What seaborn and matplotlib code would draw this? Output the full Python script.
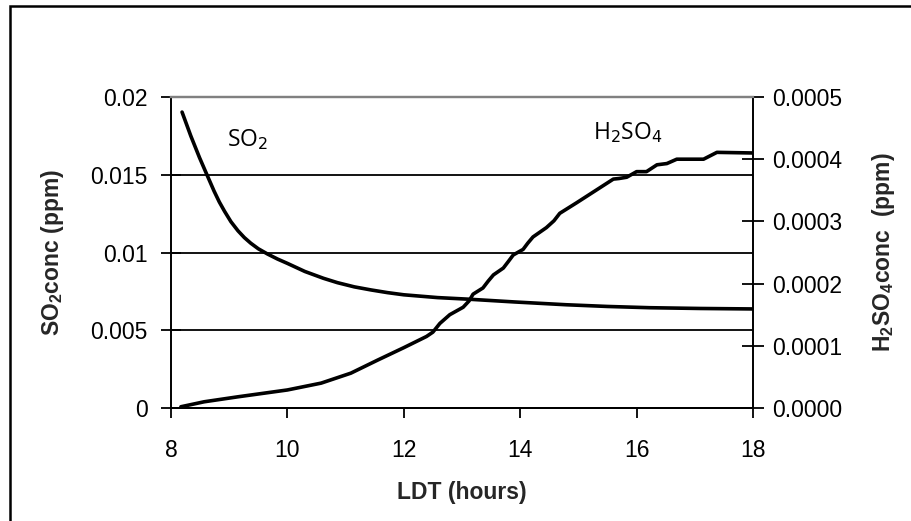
import matplotlib
matplotlib.use("Agg")
import matplotlib.pyplot as plt
import seaborn as sns
import pandas as pd
from matplotlib.patches import Rectangle

# SO2 concentration (left axis, ppm)
so2_hours = [8.19, 8.34, 8.49, 8.60, 8.74, 8.83, 8.92, 9.03, 9.15, 9.26, 9.37,
             9.5, 9.66, 9.83, 10.0, 10.3, 10.62, 10.86, 11.15, 11.44, 11.72,
             12.0, 12.58, 13.1, 13.9, 14.79, 15.5, 16.22, 17.1, 18.0]
so2_conc = [0.01903, 0.0175, 0.0161, 0.01515, 0.01395, 0.01325, 0.01265,
            0.01198, 0.0114, 0.01096, 0.0106, 0.01024, 0.0099, 0.00958,
            0.0093, 0.00878, 0.00834, 0.00806, 0.00779, 0.00759, 0.00742,
            0.00728, 0.0071, 0.007, 0.00682, 0.00664, 0.00653, 0.00645,
            0.0064, 0.00637]

# H2SO4 concentration (right axis, ppm)
h2so4_hours = [8.17, 8.57, 9.15, 10.0, 10.58, 11.09, 11.55, 12.0, 12.39, 12.5,
               12.62, 12.79, 13.02, 13.12, 13.19, 13.36, 13.45, 13.54, 13.71,
               13.8, 13.88, 14.05, 14.13, 14.22, 14.45, 14.58, 14.68, 14.97,
               15.6, 15.7, 15.83, 16.0, 16.17, 16.35, 16.52, 16.69, 17.15,
               17.38, 18.0]
h2so4_conc = [0.000002, 0.00001, 0.000018, 0.000029, 0.00004, 0.000056,
              0.000077, 0.000097, 0.000115, 0.000122, 0.000136, 0.00015,
              0.000162, 0.000172, 0.000183, 0.000193, 0.000204, 0.000214,
              0.000225, 0.000236, 0.000246, 0.000255, 0.000265, 0.000275,
              0.00029, 0.000301, 0.000313, 0.00033, 0.000368, 0.000369,
              0.000371, 0.00038, 0.00038, 0.000391, 0.000393, 0.0004, 0.0004,
              0.000411, 0.00041]

x_ticks = [8, 10, 12, 14, 16, 18]
left_ticks = [0, 0.005, 0.01, 0.015, 0.02]
left_labels = ["0", "0.005", "0.01", "0.015", "0.02"]
right_ticks = [0, 0.0001, 0.0002, 0.0003, 0.0004, 0.0005]
right_labels = ["0.0000", "0.0001", "0.0002", "0.0003", "0.0004", "0.0005"]

sns.set_style("white")
plt.rcParams["font.family"] = ["Liberation Sans", "DejaVu Sans"]
plt.rcParams["mathtext.fontset"] = "custom"
plt.rcParams["mathtext.rm"] = "Liberation Sans"
plt.rcParams["mathtext.bf"] = "Liberation Sans:bold"

fig = plt.figure(figsize=(9.12, 5.21), dpi=100)
ax = fig.add_axes([171 / 912, 1 - 408 / 521, 582 / 912, 311 / 521])

df1 = pd.DataFrame({"hours": so2_hours, "conc": so2_conc})
df2 = pd.DataFrame({"hours": h2so4_hours, "conc": h2so4_conc})

sns.lineplot(data=df1, x="hours", y="conc", ax=ax, color="black", lw=2.6,
             sort=True, solid_joinstyle="round", solid_capstyle="round")
ax2 = ax.twinx()
sns.lineplot(data=df2, x="hours", y="conc", ax=ax2, color="black", lw=2.6,
             sort=True, solid_joinstyle="round", solid_capstyle="round")

ax.set_xlim(8, 18)
ax.set_ylim(0, 0.02)
ax2.set_ylim(0, 0.0005)

ax.set_xticks(x_ticks)
ax.set_xticklabels([str(t) for t in x_ticks])
ax.set_yticks(left_ticks)
ax.set_yticklabels(left_labels)
ax2.set_yticks(right_ticks)
ax2.set_yticklabels(right_labels)

ax.yaxis.grid(True, color="black", lw=1.3)
ax.xaxis.grid(False)
ax.set_axisbelow(True)

for a in (ax, ax2):
    for s in ("left", "right", "bottom"):
        a.spines[s].set_color("black")
        a.spines[s].set_linewidth(1.4)
    a.spines["top"].set_color("#808080")
    a.spines["top"].set_linewidth(1.6)
ax.spines["right"].set_visible(False)
ax2.spines["left"].set_visible(False)

ax.tick_params(axis="y", direction="inout", length=14, width=1.3, pad=10,
               labelsize=16.5, colors="black", left=True)
ax.tick_params(axis="x", direction="out", length=7, width=1.3, pad=15,
               labelsize=16.5, colors="black", bottom=True)
ax2.tick_params(axis="y", direction="inout", length=16, width=1.3, pad=6,
                labelsize=16.5, colors="black", right=True)

ax.set_xlabel("LDT (hours)", fontsize=16.5, fontweight="bold")
ax.xaxis.set_label_coords(0.5, -0.273)
ax.xaxis.label.set_va("center")
ax.set_ylabel(r"SO$_\mathbf{2}$conc (ppm)", fontsize=16.5, fontweight="bold")
ax.yaxis.set_label_coords(-0.203, 0.5)
ax.yaxis.label.set_va("center")
ax2.set_ylabel(r"H$_\mathbf{2}$SO$_\mathbf{4}$conc  (ppm)", fontsize=16.5,
               fontweight="bold", rotation=90)
ax2.yaxis.set_label_coords(1.2234, 0.5)
ax2.yaxis.label.set_va("center")

ax.text(9.32, 0.01723, r"SO$_2$", fontsize=16.5, family="Open Sans",
        ha="center", va="center", math_fontfamily="dejavusans", color="black")
ax2.text(15.85, 0.000442, r"H$_2$SO$_4$", fontsize=16.5, family="Open Sans",
         ha="center", va="center", math_fontfamily="dejavusans", color="black")

fig.patches.append(Rectangle((10 / 912, -0.05), 1.2, 1.05 - 6 / 521,
                             transform=fig.transFigure, fill=False,
                             edgecolor="black", lw=1.8, zorder=0))

fig.savefig("out.png", dpi=100)
